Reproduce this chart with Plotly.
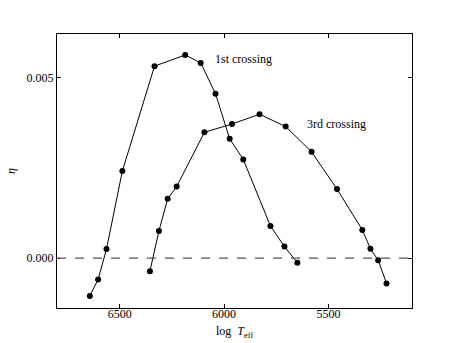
import plotly.graph_objects as go

# 1st crossing
teff_1st = [6643, 6603, 6563, 6487, 6333, 6186, 6112, 6041, 5973, 5908, 5778, 5711, 5649]
eta_1st = [-0.00105, -0.00059, 0.00025, 0.00241, 0.00531, 0.00562, 0.00540, 0.00455,
           0.00330, 0.00273, 0.00089, 0.00032, -0.00013]

# 3rd crossing
teff_3rd = [6355, 6312, 6270, 6227, 6094, 5962, 5830, 5705, 5581, 5459, 5338, 5299, 5262, 5222]
eta_3rd = [-0.00036, 0.00075, 0.00164, 0.00198, 0.00348, 0.00371, 0.00398, 0.00364,
           0.00294, 0.00191, 0.00078, 0.00026, -0.00006, -0.00070]

x_ticks = [6500, 6000, 5500]
y_ticks = [0.0, 0.005]

font = dict(family='Liberation Serif', size=12, color='black')

fig = go.Figure()

for x, y in [(teff_1st, eta_1st), (teff_3rd, eta_3rd)]:
    fig.add_trace(go.Scatter(x=x, y=y, mode='lines+markers',
                             line=dict(color='black', width=1),
                             marker=dict(color='black', size=6),
                             showlegend=False))

# zero line
fig.add_shape(type='line', xref='paper', x0=0, x1=1, yref='y', y0=0, y1=0,
              line=dict(color='#555555', width=1.2, dash='dash'))

fig.add_annotation(x=5906, y=0.00551, text='1st crossing', showarrow=False, font=font)
fig.add_annotation(x=5463, y=0.00370, text='3rd crossing', showarrow=False, font=font)

# axis titles as paper annotations so they sit where the reference has them
fig.add_annotation(xref='paper', yref='paper', x=0.5, y=0, yanchor='middle', yshift=-24,
                   text='log  <i>T</i><sub>eff</sub>', showarrow=False, font=font)
fig.add_annotation(xref='paper', yref='paper', x=0, y=0.5, xanchor='center', xshift=-46,
                   text='<i>η</i>', textangle=-90, showarrow=False, font=font)

axis_style = dict(showline=True, linecolor='black', linewidth=1, mirror='ticks',
                  ticks='inside', ticklen=4, tickcolor='black', showgrid=False,
                  zeroline=False, tickfont=font, automargin=False)

fig.update_xaxes(range=[6800, 5100], tickvals=x_ticks, ticktext=[str(t) for t in x_ticks],
                 ticklabelstandoff=-5, **axis_style)
fig.update_yaxes(range=[-0.00138, 0.0062], tickvals=y_ticks,
                 ticktext=['0.000', '0.005'], ticklabelstandoff=0,
                 **axis_style)

# page body adds an 8px offset, so the figure is sized to fit the window
fig.update_layout(
    width=450, height=335,
    margin=dict(l=49, r=46, t=26, b=35),
    plot_bgcolor='white',
    paper_bgcolor='white',
    font=font,
)

fig.write_html('out.html')
